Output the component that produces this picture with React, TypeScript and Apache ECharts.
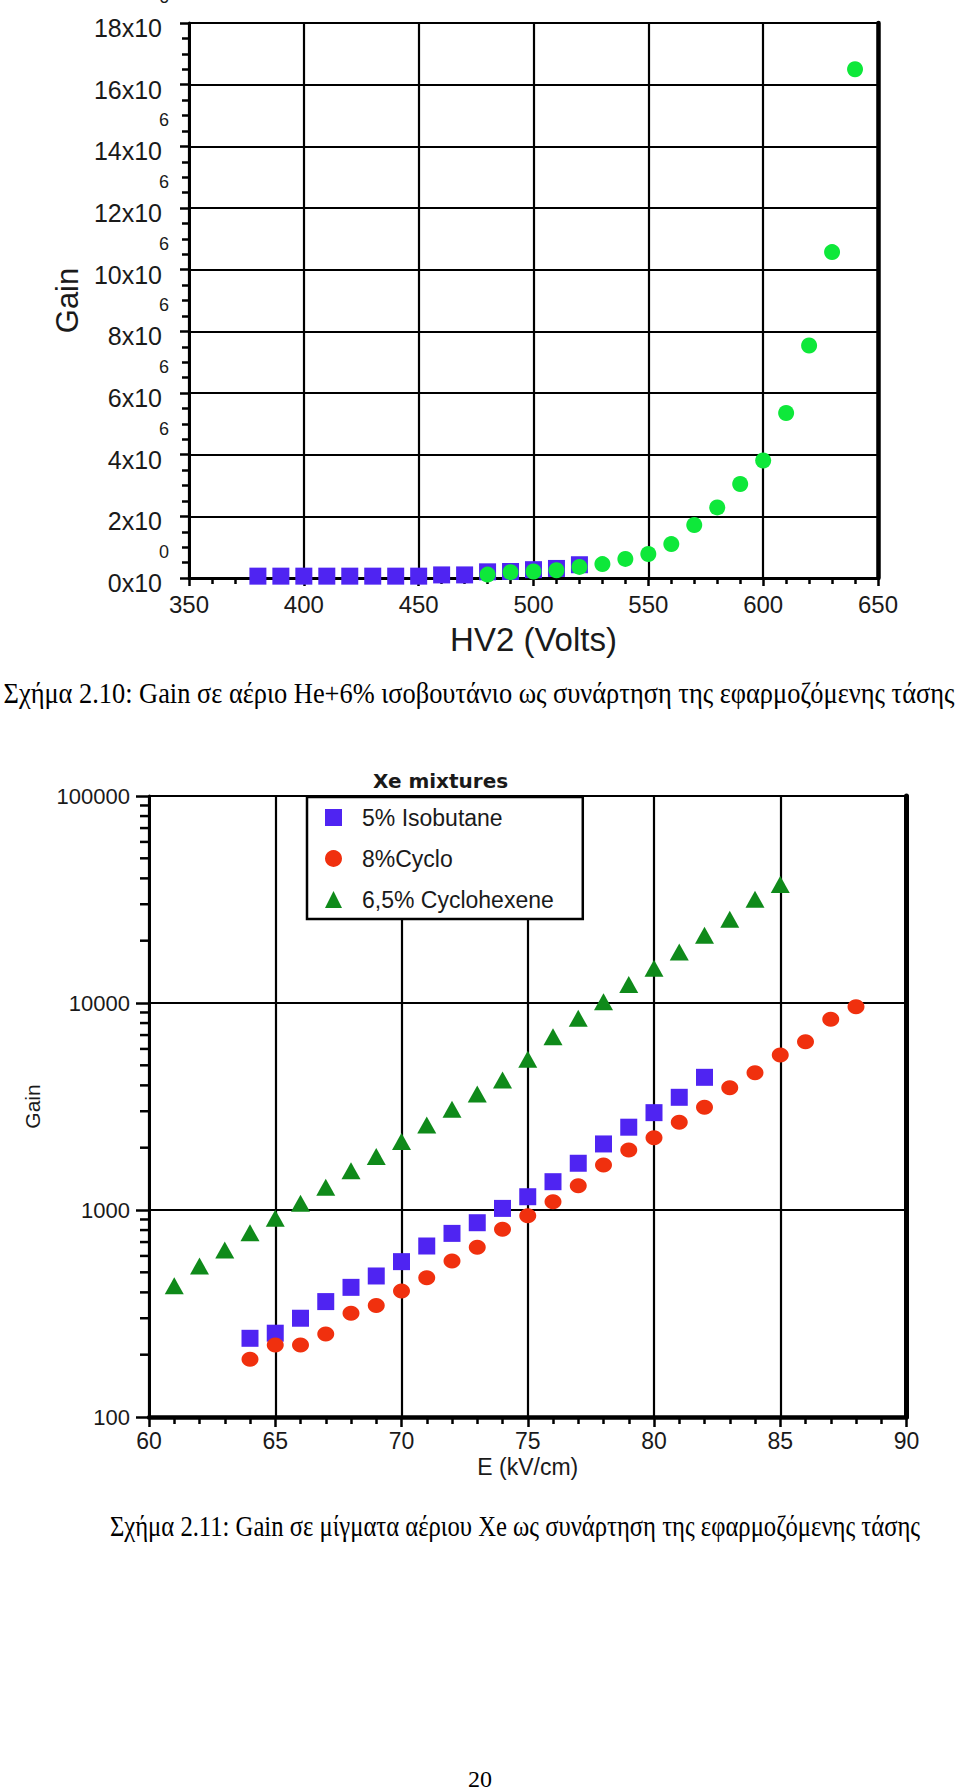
import React, { useEffect, useRef } from 'react';
import * as echarts from 'echarts';

// ---------- Figure 2.10 : He + 6% isobutane ----------
const hvSquareVolts = [380, 390, 400, 410, 420, 430, 440, 450, 460, 470, 480, 490, 500, 510, 520];
const hvSquareGain = [60000, 60000, 60000, 60000, 60000, 60000, 60000, 60000, 100000, 100000, 200000, 210000, 270000, 310000, 430000];
const hvCircleVolts = [480, 490, 500, 510, 520, 530, 540, 550, 560, 570, 580, 590, 600, 610, 620, 630, 640];
const hvCircleGain = [110000, 190000, 210000, 250000, 360000, 450000, 620000, 780000, 1100000, 1720000, 2290000, 3050000, 3810000, 5350000, 7540000, 10570000, 16500000];

// ---------- Figure 2.11 : Xe mixtures ----------
const isoField = [64, 65, 66, 67, 68, 69, 70, 71, 72, 73, 74, 75, 76, 77, 78, 79, 80, 81, 82];
const isoGain = [240, 254, 300, 361, 423, 480, 563, 670, 771, 868, 1018, 1159, 1370, 1682, 2085, 2512, 2953, 3503, 4375];
const cycloField = [64, 65, 66, 67, 68, 69, 70, 71, 72, 73, 74, 75, 76, 77, 78, 79, 80, 81, 82, 83, 84, 85, 86, 87, 88];
const cycloGain = [190, 223, 223, 252, 317, 346, 406, 471, 567, 661, 807, 937, 1096, 1310, 1649, 1948, 2235, 2653, 3136, 3900, 4605, 5610, 6500, 8340, 9590];
const hexField = [61, 62, 63, 64, 65, 66, 67, 68, 69, 70, 71, 72, 73, 74, 75, 76, 77, 78, 79, 80, 81, 82, 83, 84, 85];
const hexGain = [430, 536, 641, 776, 912, 1077, 1288, 1549, 1811, 2140, 2575, 3066, 3630, 4250, 5345, 6870, 8430, 10140, 12300, 14700, 17640, 21220, 25380, 31750, 37400];
const logMinorTicks = [200, 300, 400, 500, 600, 700, 800, 900, 2000, 3000, 4000, 5000, 6000, 7000, 8000, 9000, 20000, 30000, 40000, 50000, 60000, 70000, 80000, 90000];

const legendNames = ['5% Isobutane', '8%Cyclo', '6,5% Cyclohexene'];
const caption1 = 'Σχήμα 2.10: Gain σε αέριο He+6% ισοβουτάνιο ως συνάρτηση της εφαρμοζόμενης τάσης';
const caption2 = 'Σχήμα 2.11: Gain σε μίγματα αέριου Xe ως συνάρτηση της εφαρμοζόμενης τάσης';
const pageNumber = '20';

const SANS = "'Liberation Sans', Arial, sans-serif";
const SERIF = "'Liberation Serif', 'Times New Roman', serif";
const BLUE = '#4f24f2';
const LIME = '#0ee83a';
const RED = '#f0300e';
const DGREEN = '#0f8a1a';
const INK = '#1a1a1a';

const zip = (xs: number[], ys: number[]) => xs.map((x, i) => [x, ys[i]]);

export default function App() {
  const ref = useRef<HTMLDivElement>(null);
  useEffect(() => {
    if (!ref.current) return;
    const chart = echarts.init(ref.current, null, { renderer: 'svg' });
    const black = (w: number) => ({ show: true, lineStyle: { color: '#000', width: w } });
    const hvGainAxis = { gridIndex: 0, type: 'value', min: 0, max: 18000000, interval: 2000000 };
    const option: any = {
      animation: false,
      backgroundColor: '#fff',
      textStyle: { fontFamily: SANS },
      title: {
        text: 'Xe mixtures',
        left: 373,
        top: 771,
        padding: 0,
        textStyle: { fontFamily: "'DejaVu Sans', sans-serif", fontWeight: 'bold', fontSize: 20, color: INK },
      },
      legend: {
        orient: 'vertical',
        left: 307,
        top: 797,
        padding: [9, 29, 8, 18],
        backgroundColor: '#fff',
        borderColor: '#000',
        borderWidth: 2.5,
        itemWidth: 17,
        itemHeight: 17,
        itemGap: 18,
        selectedMode: false,
        textStyle: { fontSize: 23, color: INK, padding: [0, 0, 0, 15], fontFamily: SANS },
        data: [
          { name: legendNames[0], icon: 'rect' },
          { name: legendNames[1], icon: 'circle' },
          { name: legendNames[2], icon: 'triangle' },
        ],
      },
      grid: [
        { left: 189, top: 23, width: 689, height: 555, containLabel: false, outerBoundsMode: 'none' },
        { left: 149, top: 796, width: 757.5, height: 621, containLabel: false, outerBoundsMode: 'none' },
      ],
      xAxis: [
        {
          gridIndex: 0,
          type: 'value',
          min: 350,
          max: 650,
          interval: 50,
          name: 'HV2 (Volts)',
          nameLocation: 'middle',
          nameGap: 45,
          nameTextStyle: { fontSize: 33, color: INK, fontFamily: SANS },
          axisLine: { show: true, onZero: false, lineStyle: { color: '#000', width: 3 } },
          axisTick: { show: true, length: 8, lineStyle: { color: '#000', width: 2.5 } },
          minorTick: { show: true, splitNumber: 5, length: 6, lineStyle: { color: '#000', width: 2.5 } },
          splitLine: black(2.2),
          axisLabel: { fontSize: 24, color: INK, margin: 14, fontFamily: SANS },
        },
        {
          gridIndex: 1,
          type: 'value',
          min: 60,
          max: 90,
          interval: 5,
          name: 'E (kV/cm)',
          nameLocation: 'middle',
          nameGap: 38,
          nameTextStyle: { fontSize: 23, color: INK, fontFamily: SANS },
          axisLine: { show: true, onZero: false, lineStyle: { color: '#000', width: 4.5 } },
          axisTick: { show: true, length: 10, lineStyle: { color: '#000', width: 2.5 } },
          minorTick: { show: true, splitNumber: 5, length: 7, lineStyle: { color: '#000', width: 2.5 } },
          splitLine: black(2.2),
          axisLabel: { fontSize: 23, color: INK, margin: 12, fontFamily: SANS },
        },
      ],
      yAxis: [
        {
          ...hvGainAxis,
          name: 'Gain',
          nameLocation: 'middle',
          nameGap: 106,
          nameTextStyle: { fontSize: 31, color: INK, fontFamily: SANS },
          axisLine: { show: true, lineStyle: { color: '#000', width: 3 } },
          axisTick: { show: true, length: 9, lineStyle: { color: '#000', width: 2.5 } },
          minorTick: { show: true, splitNumber: 4, length: 7, lineStyle: { color: '#000', width: 2.5 } },
          splitLine: black(2.2),
          axisLabel: {
            margin: 27,
            fontSize: 25,
            lineHeight: 10,
            color: INK,
            fontFamily: SANS,
            showMinLabel: true,
            showMaxLabel: true,
            formatter: (v: number) => `\n${Math.round(v / 1e6)}x10`,
          },
        },
        {
          ...hvGainAxis,
          position: 'right',
          axisLine: { show: true, lineStyle: { color: '#000', width: 4.5 } },
          axisTick: { show: false },
          axisLabel: { show: false },
          splitLine: { show: false },
        },
        {
          gridIndex: 1,
          type: 'log',
          logBase: 10,
          min: 100,
          max: 100000,
          name: 'Gain',
          nameLocation: 'middle',
          nameGap: 106,
          nameTextStyle: { fontSize: 21, color: INK, fontFamily: SANS },
          axisLine: { show: true, lineStyle: { color: '#000', width: 3 } },
          axisTick: { show: true, length: 13, lineStyle: { color: '#000', width: 2.5 } },
          splitLine: black(2.2),
          axisLabel: { fontSize: 22, color: INK, margin: 19, fontFamily: SANS, formatter: (v: number) => String(Math.round(v)) },
        },
        {
          gridIndex: 1,
          type: 'log',
          logBase: 10,
          position: 'right',
          min: 100,
          max: 100000,
          axisLine: { show: true, lineStyle: { color: '#000', width: 5 } },
          axisTick: { show: false },
          axisLabel: { show: false },
          splitLine: { show: false },
        },
        {
          // exponent ("x10^6") labels of the top chart, drawn by a second left axis
          ...hvGainAxis,
          position: 'left',
          offset: 0,
          axisLine: { show: false },
          axisTick: { show: false },
          splitLine: { show: false },
          axisLabel: {
            margin: 20,
            fontSize: 18,
            lineHeight: 26,
            color: INK,
            fontFamily: SANS,
            showMinLabel: true,
            showMaxLabel: true,
            formatter: (v: number) => `${v === 0 ? '0' : '6'}\n\n`,
          },
        },
      ],
      series: [
        {
          type: 'scatter',
          name: 'HV isobutane',
          xAxisIndex: 0,
          yAxisIndex: 0,
          symbol: 'rect',
          symbolSize: 17,
          itemStyle: { color: BLUE, opacity: 1 },
          data: zip(hvSquareVolts, hvSquareGain),
        },
        {
          type: 'scatter',
          name: 'HV gain',
          xAxisIndex: 0,
          yAxisIndex: 0,
          symbol: 'circle',
          symbolSize: 16,
          itemStyle: { color: LIME, opacity: 1 },
          data: zip(hvCircleVolts, hvCircleGain),
        },
        {
          type: 'scatter',
          name: legendNames[0],
          xAxisIndex: 1,
          yAxisIndex: 2,
          symbol: 'rect',
          symbolSize: 17,
          itemStyle: { color: BLUE, opacity: 1 },
          data: zip(isoField, isoGain),
        },
        {
          type: 'scatter',
          name: legendNames[1],
          xAxisIndex: 1,
          yAxisIndex: 2,
          symbol: 'circle',
          symbolSize: [17, 15],
          itemStyle: { color: RED, opacity: 1 },
          data: zip(cycloField, cycloGain),
        },
        {
          type: 'scatter',
          name: legendNames[2],
          xAxisIndex: 1,
          yAxisIndex: 2,
          symbol: 'triangle',
          symbolSize: [19, 17],
          itemStyle: { color: DGREEN, opacity: 1 },
          data: zip(hexField, hexGain),
        },
        {
          type: 'custom',
          name: 'log minor ticks',
          xAxisIndex: 1,
          yAxisIndex: 2,
          silent: true,
          clip: false,
          data: logMinorTicks.map((v) => [60, v]),
          renderItem: (_p: any, api: any) => {
            const pt = api.coord([api.value(0), api.value(1)]);
            return {
              type: 'line',
              shape: { x1: pt[0] - 9, y1: pt[1], x2: pt[0], y2: pt[1] },
              style: { stroke: '#000', lineWidth: 2.5 },
            };
          },
        },
      ],
      graphic: [
        {
          type: 'text',
          x: 479,
          y: 693,
          scaleX: 0.91,
          style: { text: caption1, fontSize: 29, fontFamily: SERIF, fill: '#000', align: 'center', verticalAlign: 'middle' },
        },
        {
          type: 'text',
          x: 515,
          y: 1526,
          scaleX: 0.85,
          style: { text: caption2, fontSize: 29, fontFamily: SERIF, fill: '#000', align: 'center', verticalAlign: 'middle' },
        },
        {
          type: 'text',
          x: 480,
          y: 1779,
          style: { text: pageNumber, fontSize: 24, fontFamily: SERIF, fill: '#000', align: 'center', verticalAlign: 'middle' },
        },
      ],
    };
    chart.setOption(option);
    return () => chart.dispose();
  }, []);
  return <div ref={ref} style={{ position: 'absolute', left: 0, top: 0, width: 960, height: 1792, background: '#fff' }} />;
}
